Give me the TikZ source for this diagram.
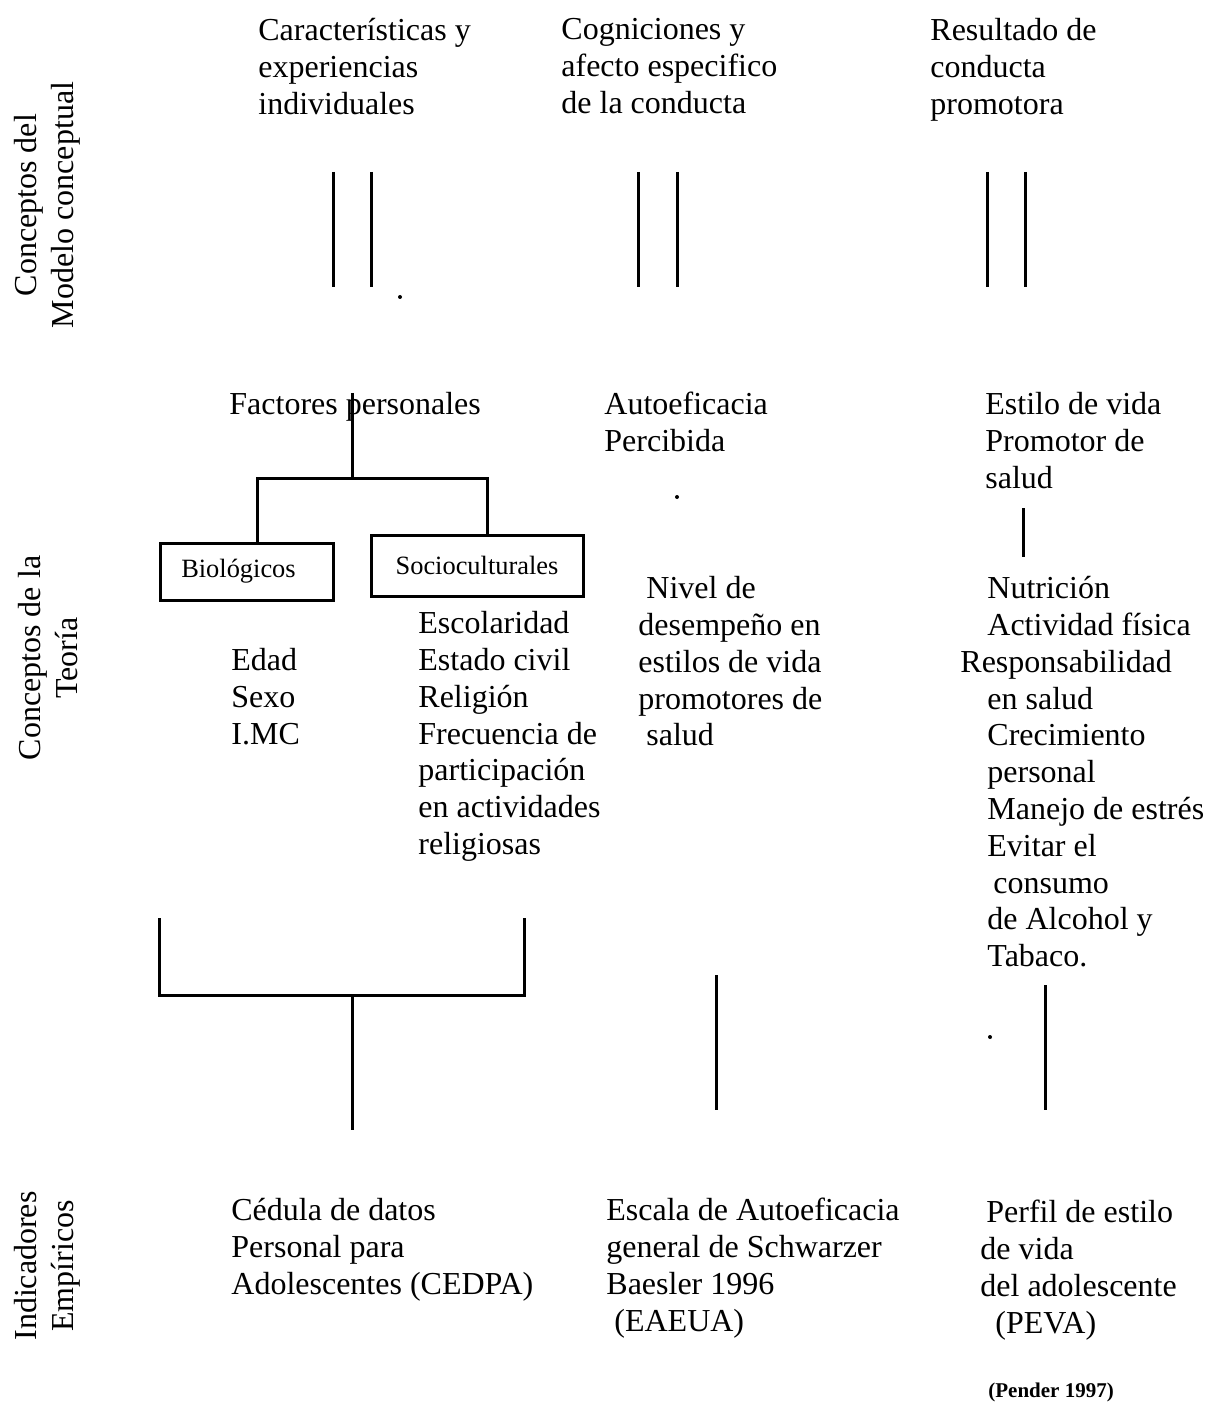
\documentclass[tikz,border=0pt]{standalone}
\usepackage{fontspec}
\setmainfont{Liberation Serif}
\newcommand\bodyfont{\fontsize{16}{18.4}\selectfont}
\tikzset{
  txt/.style={anchor=north west, inner sep=0pt, align=left, font=\bodyfont, execute at begin node=\strut},
  side/.style={rotate=90, inner sep=0pt, align=center, font=\bodyfont},
  link/.style={line width=1.5pt},
  catbox/.style={draw, line width=1.5pt, inner sep=0pt, font=\fontsize{13.2}{15}\selectfont}
}

\begin{document}
\begin{tikzpicture}[x=0.5pt,y=-0.5pt]
\useasboundingbox (0,0) rectangle (1208,1406);
% side labels
\node[side] (lblmodel) at (47,205) {Conceptos del\\Modelo conceptual};
\node[side] (lblteoria) at (48,658) {Conceptos de la\\Teoría};
\node[side] (lblind) at (47,1266) {Indicadores\\Empíricos};
% model concepts
\node[txt] (caract) at (258,18) {Características y\\experiencias\\individuales};
\node[txt] (cogn) at (561,18) {Cogniciones y\\afecto especifico\\de la conducta};
\node[txt] (result) at (930,18) {Resultado de\\conducta\\promotora};
\draw[link] (333,172) -- (333,287) (371,172) -- (371,287);
\draw[link] (638,172) -- (638,287) (677,172) -- (677,287);
\draw[link] (987,172) -- (987,287) (1025,172) -- (1025,287);
\fill (400,297) circle (2);
% theory concepts
\node[txt] (factores) at (229,388) {Factores personales};
\node[txt] (autoef) at (604,392) {Autoeficacia\\Percibida};
\node[txt] (estilo) at (985,392) {Estilo de vida\\Promotor de\\salud};
\node[catbox, minimum width=86.5pt, minimum height=28.5pt] (bio) at (246.5,571.5) {Biológicos\hspace*{8pt}};
\node[catbox, minimum width=106pt, minimum height=30.5pt] (socio) at (477,565.5) {Socioculturales};
\coordinate (forkL) at (257,478);
\coordinate (forkR) at (487,478);
\draw[link] (352,393) -- (352,478);
\draw[link] (bio.north -| forkL) -- (forkL) -- (forkR) -- (socio.north -| forkR);
\fill (677,497) circle (2);
\draw[link] (1023,508) -- (1023,557);
\node[txt] (biolist) at (231,648) {Edad\\Sexo\\I.MC};
\node[txt] (sociolist) at (418,611) {Escolaridad\\Estado civil\\Religión\\Frecuencia de\\participación\\en actividades\\religiosas};
\node[txt] (nivel) at (638,576) {\hspace*{4pt}Nivel de\\desempeño en\\estilos de vida\\promotores de\\\hspace*{4pt}salud};
\node[txt] (dimens) at (960,576) {\hspace*{13.5pt}Nutrición\\\hspace*{13.5pt}Actividad física\\Responsabilidad\\\hspace*{13.5pt}en salud\\\hspace*{13.5pt}Crecimiento\\\hspace*{13.5pt}personal\\\hspace*{13.5pt}Manejo de estrés\\\hspace*{13.5pt}Evitar el\\\hspace*{16.5pt}consumo\\\hspace*{13.5pt}de Alcohol y\\\hspace*{13.5pt}Tabaco.};
% empirical indicators
\draw[link] (159,918) -- (159,995) -- (524,995) -- (524,918);
\draw[link] (352,995) -- (352,1130);
\draw[link] (716,975) -- (716,1110);
\draw[link] (1045,985) -- (1045,1110);
\fill (990,1037) circle (2);
\node[txt] (cedpa) at (231,1198) {Cédula de datos\\Personal para\\Adolescentes (CEDPA)};
\node[txt] (eaeua) at (606,1198) {Escala de Autoeficacia\\general de Schwarzer\\Baesler 1996\\\hspace*{4pt}(EAEUA)};
\node[txt] (peva) at (980,1200) {\hspace*{3pt}Perfil de estilo\\de vida\\del adolescente\\\hspace*{7.5pt}(PEVA)};
\node[anchor=base west, inner sep=0pt, font=\fontsize{10.5}{12}\selectfont\bfseries] (pender) at (988,1397) {(Pender 1997)};
\end{tikzpicture}
\end{document}
